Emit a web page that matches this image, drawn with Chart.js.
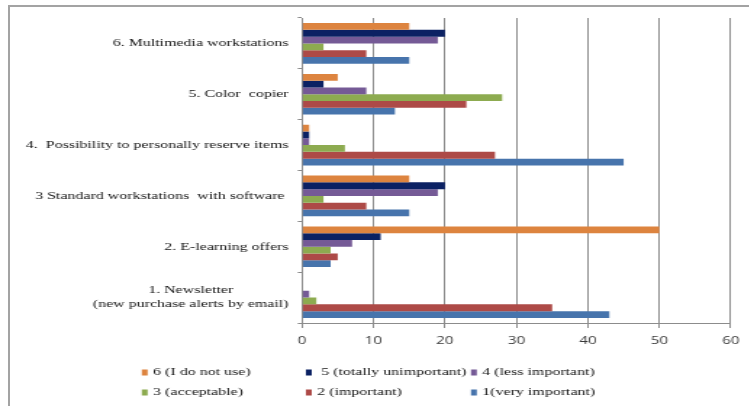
<!DOCTYPE html>
<html>
<head>
<meta charset="utf-8">
<script src="https://cdn.jsdelivr.net/npm/chart.js@4.4.1/dist/chart.umd.min.js"></script>
<style>
  html, body { margin: 0; padding: 0; background: #ffffff; overflow: hidden; }
  body { width: 749px; height: 406px; position: relative; }
  #frame {
    position: absolute; left: 8px; top: 5px; width: 800px; height: 500px;
    border-top: 2px solid #a3a3a3; border-left: 2px solid #a3a3a3;
  }
  /* the chart is drawn narrow and widened horizontally */
  #wrap { position: absolute; left: 0; top: 0; transform: scaleX(1.45); transform-origin: 0 0; }
</style>
</head>
<body>
<div id="frame"></div>
<div id="wrap"><canvas id="c" width="517" height="406"></canvas></div>
<script>
// Services, listed top to bottom
const categories = [
  '6. Multimedia workstations',
  '5. Color  copier',
  '4.  Possibility to personally reserve items',
  '3 Standard workstations  with software ',
  '2. E-learning offers',
  ['1. Newsletter', '(new purchase alerts by email)']
];

// Ratings per service (number of responses)
const seriesNames = [
  '6 (I do not use)',
  ' 5 (totally unimportant)',
  '4 (less important)',
  '3 (acceptable)',
  '2 (important)',
  '1(very important)'
];
const notUsed       = [15, 5, 1, 15, 50, 0];
const totallyUnimp  = [20, 3, 1, 20, 11, 0];
const lessImportant = [19, 9, 1, 19, 7, 1];
const acceptable    = [3, 28, 6, 3, 4, 2];
const important     = [9, 23, 27, 9, 5, 35];
const veryImportant = [15, 13, 45, 15, 4, 43];

const xTicks = [0, 10, 20, 30, 40, 50, 60];

const seriesValues = [notUsed, totallyUnimp, lessImportant, acceptable, important, veryImportant];
const seriesColors = ['#DD843F', '#0B2163', '#755A96', '#8DAB50', '#AD4A47', '#4774AC'];

const SERIF = '"Liberation Serif", "Times New Roman", serif';
const GRID = '#8c8c8c';
const TEXT = '#141414';

// Category labels: each block right-aligned, its lines centred on each other
const categoryLabels = {
  id: 'categoryLabels',
  afterDraw(chart) {
    const ctx = chart.ctx;
    const y = chart.scales.y;
    const right = 199;
    const lineH = 14;
    ctx.save();
    ctx.font = '11px ' + SERIF;
    ctx.fillStyle = TEXT;
    ctx.textAlign = 'center';
    ctx.textBaseline = 'middle';
    chart.data.labels.forEach((lab, i) => {
      const lines = Array.isArray(lab) ? lab : [lab];
      const w = Math.max(...lines.map(l => ctx.measureText(l).width));
      const cx = right - w / 2;
      const cy = y.getPixelForTick(i);
      lines.forEach((l, j) => {
        ctx.fillText(l, cx, cy + (j - (lines.length - 1) / 2) * lineH);
      });
    });
    ctx.restore();
  }
};

// Legend laid out as a 3-column grid below the axis
const gridLegend = {
  id: 'gridLegend',
  afterDraw(chart) {
    const ctx = chart.ctx;
    const colX = [97.8, 211, 324.8];
    const rowY = [372.5, 392.5];
    ctx.save();
    ctx.font = '11px ' + SERIF;
    ctx.textAlign = 'left';
    ctx.textBaseline = 'middle';
    chart.data.datasets.forEach((ds, i) => {
      const x = colX[i % 3];
      const yy = rowY[Math.floor(i / 3)];
      ctx.fillStyle = ds.backgroundColor;
      ctx.fillRect(x, yy - 3, 4, 6);
      ctx.fillStyle = TEXT;
      ctx.fillText(ds.label, x + 7.8, yy);
    });
    ctx.restore();
  }
};

new Chart(document.getElementById('c'), {
  type: 'bar',
  data: {
    labels: categories,
    datasets: seriesNames.map((name, i) => ({
      label: name,
      data: seriesValues[i],
      backgroundColor: seriesColors[i],
      borderWidth: 0,
      categoryPercentage: 0.8,
      barPercentage: 1.0
    }))
  },
  options: {
    indexAxis: 'y',
    responsive: false,
    devicePixelRatio: 1,
    animation: false,
    layout: { padding: { left: 0, right: 12.5, top: 18, bottom: 0 } },
    plugins: {
      legend: { display: false },
      tooltip: { enabled: false }
    },
    scales: {
      x: {
        min: 0,
        max: 60,
        afterBuildTicks(scale) { scale.ticks = xTicks.map(v => ({ value: v })); },
        afterFit(scale) { scale.height = 83; },
        grid: { color: GRID, lineWidth: 1, drawTicks: true, tickLength: 5 },
        border: { color: GRID, width: 1 },
        ticks: {
          padding: 7,
          color: '#3a3a3a',
          font: { family: '"Open Sans", sans-serif', size: 10.5 }
        }
      },
      y: {
        afterFit(scale) { scale.width = 208.3; },
        grid: { color: GRID, lineWidth: 1, drawOnChartArea: false, drawTicks: true, tickLength: 3, offset: true },
        border: { color: GRID, width: 1 },
        ticks: { display: false }
      }
    }
  },
  plugins: [categoryLabels, gridLegend]
});
</script>
</body>
</html>
